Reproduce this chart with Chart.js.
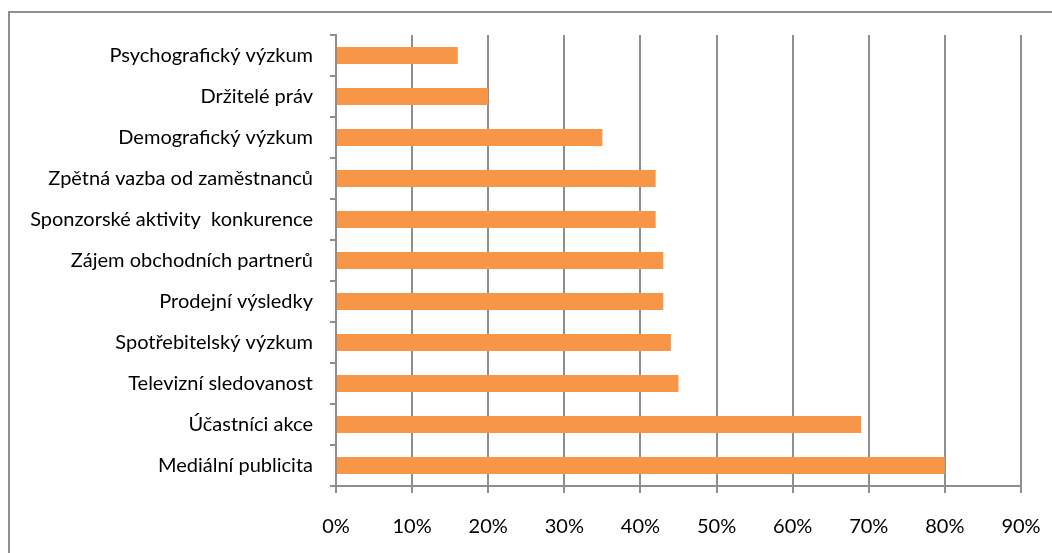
<!DOCTYPE html>
<html>
<head>
<meta charset="utf-8">
<script src="https://cdn.jsdelivr.net/npm/chart.js@4"></script>
<style>
  html, body { margin: 0; padding: 0; background: #fff; overflow: hidden; }
  #wrap { position: relative; width: 1052px; height: 553px; }
  #frame {
    position: absolute; left: 8px; top: 11px; width: 1200px; height: 700px;
    border-left: 2px solid #8e8e8e; border-top: 2px solid #8e8e8e;
  }
  canvas { position: absolute; left: 0; top: 0; }
</style>
</head>
<body>
<div id="wrap">
  <div id="frame"></div>
  <canvas id="chart" width="1052" height="553"></canvas>
</div>
<script>
// categories from top to bottom
const categories = [
  'Psychografický výzkum',
  'Držitelé práv',
  'Demografický výzkum',
  'Zpětná vazba od zaměstnanců',
  'Sponzorské aktivity  konkurence',
  'Zájem obchodních partnerů',
  'Prodejní výsledky',
  'Spotřebitelský výzkum',
  'Televizní sledovanost',
  'Účastníci akce',
  'Mediální publicita'
];
const shares = [16, 20, 35, 42, 42, 43, 43, 44, 45, 69, 80];
const xTicks = [0, 10, 20, 30, 40, 50, 60, 70, 80, 90];

const gridColor = '#8e8e8e';
const labelFont = { family: 'Lato', size: 20 };

new Chart(document.getElementById('chart'), {
  type: 'bar',
  data: {
    labels: categories,
    datasets: [{
      data: shares,
      backgroundColor: '#f79646',
      borderWidth: 0,
      categoryPercentage: 1,
      barPercentage: 0.41
    }]
  },
  options: {
    indexAxis: 'y',
    responsive: false,
    animation: false,
    layout: { padding: { top: 35, right: 31, bottom: 0, left: 0 } },
    plugins: { legend: { display: false }, tooltip: { enabled: false } },
    scales: {
      x: {
        min: 0,
        max: 90,
        afterBuildTicks: s => { s.ticks = xTicks.map(v => ({ value: v })); },
        afterFit: s => {
          s.height = 67;
          // the last label may hang into the right margin
          s.paddingLeft = 0;
          s.paddingRight = 0;
        },
        border: { color: gridColor, width: 2 },
        grid: { color: gridColor, lineWidth: 2, tickLength: 7 },
        ticks: {
          color: '#000',
          font: labelFont,
          padding: 22,
          maxRotation: 0,
          callback: v => v + '%'
        }
      },
      y: {
        afterFit: s => { s.width = 336; },
        border: { color: gridColor, width: 2 },
        grid: { color: gridColor, lineWidth: 2, drawOnChartArea: false, tickLength: 6, offset: true },
        ticks: { color: '#000', font: labelFont, padding: 17 }
      }
    }
  }
});
</script>
</body>
</html>
